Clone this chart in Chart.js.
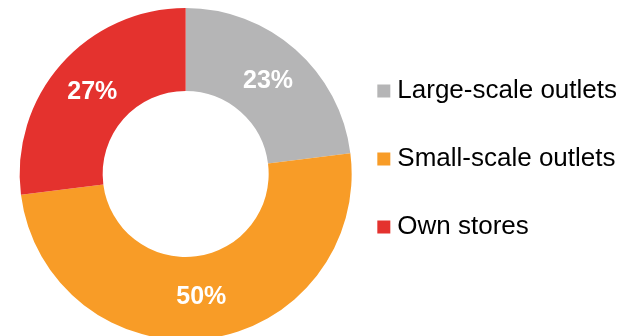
<!DOCTYPE html>
<html>
<head>
<meta charset="utf-8">
<script src="https://cdn.jsdelivr.net/npm/chart.js@4.4.1/dist/chart.umd.min.js"></script>
<style>
  html, body { margin: 0; padding: 0; background: #fff; overflow: hidden; }
  #wrap { width: 625px; height: 336px; }
</style>
</head>
<body>
<div id="wrap"><canvas id="channels-chart"></canvas></div>
<script>
const labels = ['Large-scale outlets', 'Small-scale outlets', 'Own stores'];
const shares = [23, 50, 27];
const colors = ['#b5b5b6', '#f89c27', '#e4322e'];

// writes each share in the middle of its ring segment
const sliceLabels = {
  id: 'sliceLabels',
  afterDatasetsDraw(chart) {
    const ctx = chart.ctx;
    const meta = chart.getDatasetMeta(0);
    ctx.save();
    ctx.font = 'bold 25px "Liberation Sans", Arial, sans-serif';
    ctx.fillStyle = '#fff';
    ctx.textAlign = 'center';
    ctx.textBaseline = 'middle';
    meta.data.forEach((arc, i) => {
      const { x, y } = arc.tooltipPosition();
      ctx.fillText(shares[i] + '%', x, y);
    });
    ctx.restore();
  }
};

new Chart(document.getElementById('channels-chart'), {
  type: 'doughnut',
  data: {
    labels,
    datasets: [{
      data: shares,
      backgroundColor: colors,
      borderWidth: 0,
      radius: 166,
      cutout: '50%',
      clip: false
    }]
  },
  options: {
    responsive: true,
    maintainAspectRatio: false,
    animation: false,
    layout: { padding: { left: 30, top: 36, bottom: 24, right: -2 } },
    plugins: {
      legend: {
        position: 'right',
        align: 'start',
        labels: {
          // square markers sit close to the text
          usePointStyle: true,
          pointStyle: 'rect',
          boxWidth: 1,
          boxHeight: 13,
          padding: 42,
          color: '#000',
          font: { family: '"Liberation Sans", Arial, sans-serif', size: 26 }
        }
      },
      tooltip: { enabled: false }
    }
  },
  plugins: [sliceLabels]
});
</script>
</body>
</html>
